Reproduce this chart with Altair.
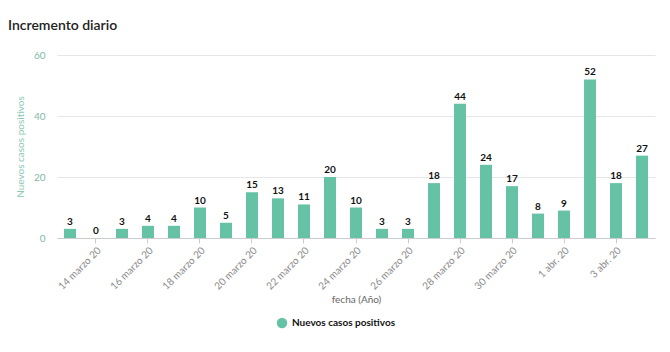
import altair as alt
import pandas as pd

fechas = ["13 marzo 20", "14 marzo 20", "15 marzo 20", "16 marzo 20", "17 marzo 20",
          "18 marzo 20", "19 marzo 20", "20 marzo 20", "21 marzo 20", "22 marzo 20",
          "23 marzo 20", "24 marzo 20", "25 marzo 20", "26 marzo 20", "27 marzo 20",
          "28 marzo 20", "29 marzo 20", "30 marzo 20", "31 marzo 20", "1 abr. 20",
          "2 abr. 20", "3 abr. 20", "4 abr. 20"]
casos = [3, 0, 3, 4, 4, 10, 5, 15, 13, 11, 20, 10, 3, 3, 18, 44, 24, 17, 8, 9, 52, 18, 27]
etiquetas = fechas[1::2]
serie = "Nuevos casos positivos"

df = pd.DataFrame({"fecha": fechas, "casos": casos, "serie": [serie] * len(fechas)})

color = "#66c2a5"
font = "Lato"

base = alt.Chart(df).encode(
    x=alt.X("fecha:N", sort=fechas,
            scale=alt.Scale(paddingInner=0.54, paddingOuter=0.27),
            axis=alt.Axis(title="fecha (Año)", values=etiquetas, labelAngle=-45,
                          labelAlign="right", labelBaseline="top", labelColor="#8a8a8a",
                          labelFontSize=10, labelFont=font, titleFont=font,
                          titleFontWeight="normal", titleFontSize=10, titleColor="#666666",
                          domainColor="#cccccc", tickColor="#cccccc", tickSize=5,
                          labelPadding=2, titlePadding=3, grid=False)),
)

bars = base.mark_bar(color=color).encode(
    y=alt.Y("casos:Q", scale=alt.Scale(domain=[0, 60]),
            axis=alt.Axis(title="Nuevos casos positivos", values=[0, 20, 40, 60],
                          labelColor="#7fb8a6", labelFont=font, labelFontSize=10,
                          titleColor="#8cc9b4", titleFont=font, titleFontSize=10,
                          titleFontWeight="normal", domain=False, ticks=False,
                          gridColor="#e6e6e6", labelPadding=12, titlePadding=8)),
    fill=alt.Fill("serie:N", scale=alt.Scale(range=[color]),
                  legend=alt.Legend(title=None, orient="none", legendX=219, legendY=262,
                                    symbolType="circle", symbolSize=110,
                                    labelFont=font, labelFontSize=10, labelFontWeight="bold",
                                    labelColor="#111111")),
)

text = base.mark_text(dy=-7, fontSize=10, fontWeight="bold", font=font,
                      color="#111111").encode(y="casos:Q", text="casos:Q")

chart = (bars + text).properties(
    width=598, height=183,
    title=alt.TitleParams("Incremento diario", anchor="start", frame="group", dx=-49,
                          offset=17, font=font, fontSize=14, fontWeight=600,
                          color="#222222"),
    padding={"left": 57, "top": 55, "right": 15, "bottom": 114},
    autosize=alt.AutoSizeParams(type="none"),
).configure_view(stroke=None)

chart.save("out.html", embed_options={"renderer": "svg", "actions": False})
